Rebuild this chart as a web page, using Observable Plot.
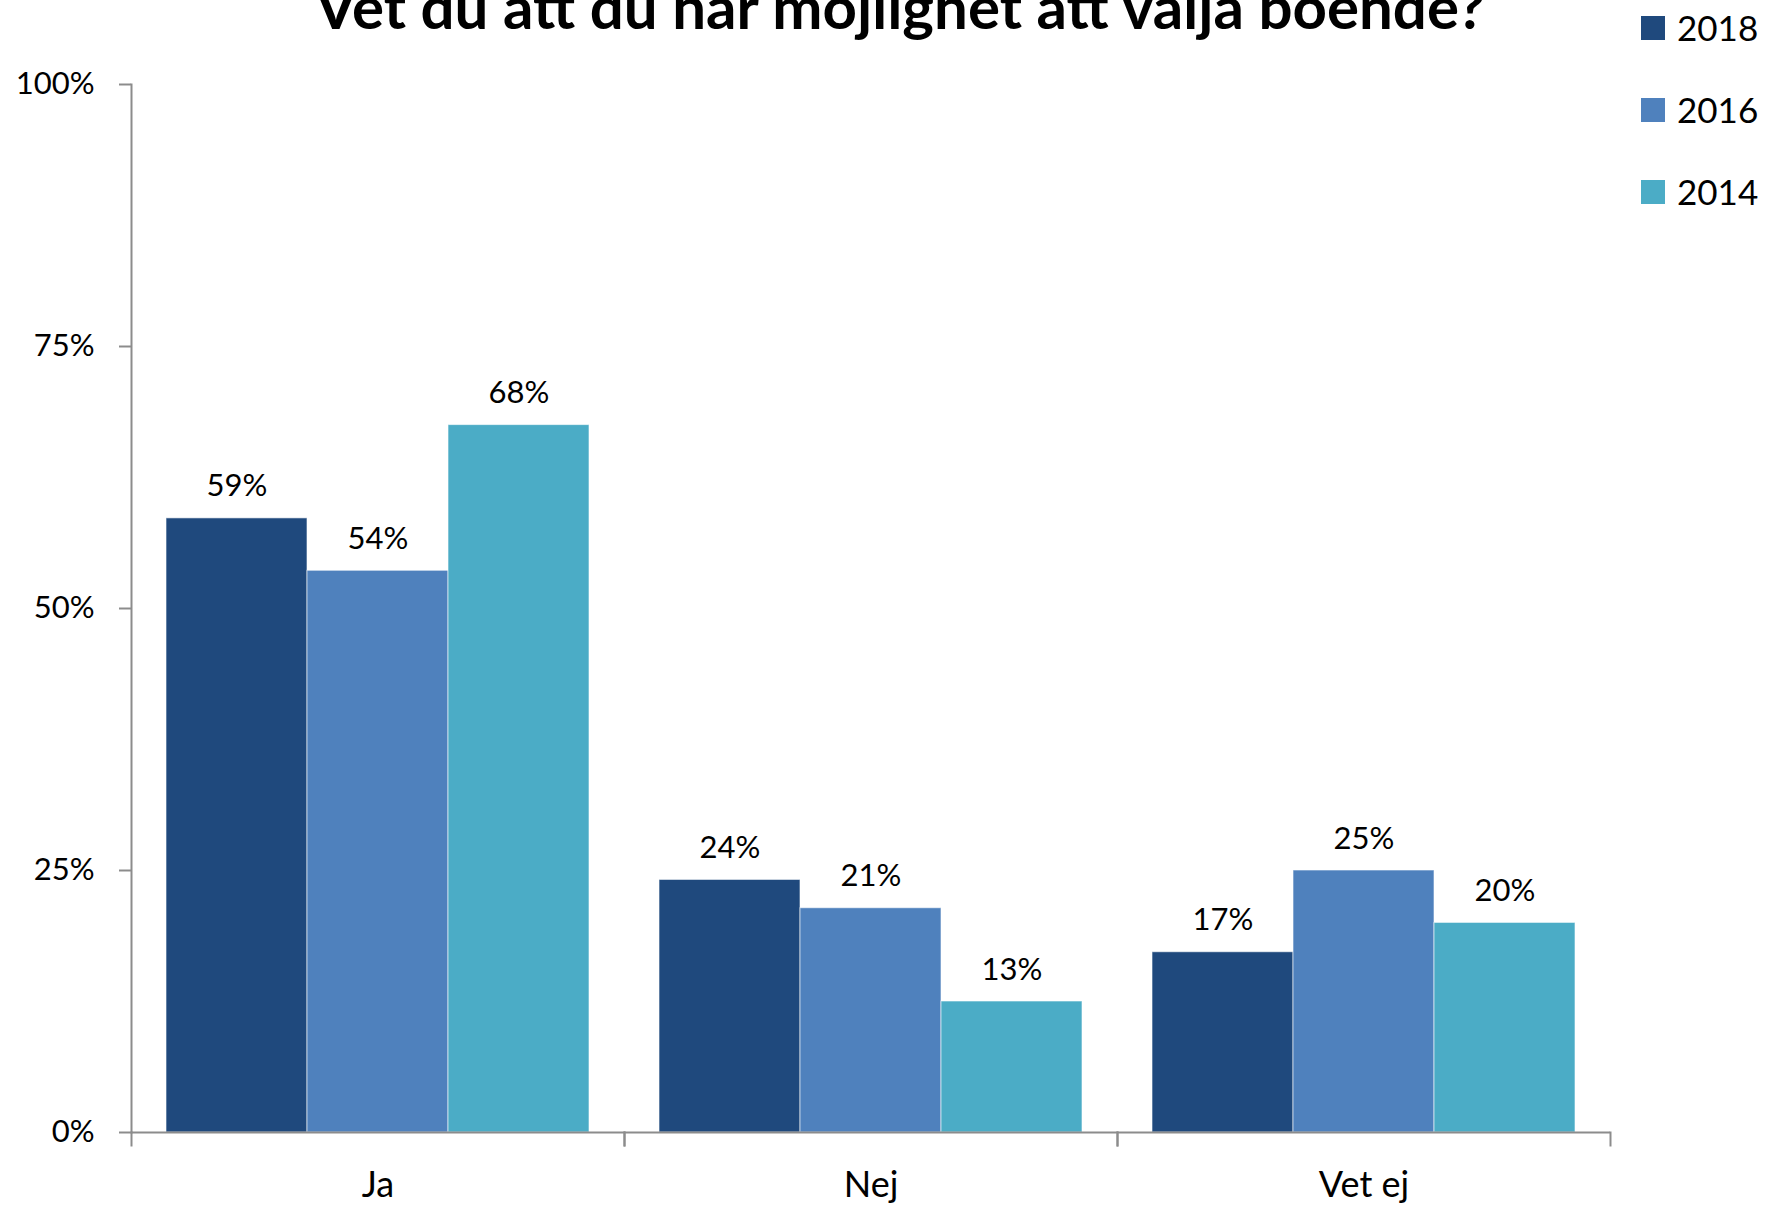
<!DOCTYPE html>
<html>
<head>
<meta charset="utf-8">
<script src="https://cdn.jsdelivr.net/npm/d3@7"></script>
<script src="https://cdn.jsdelivr.net/npm/@observablehq/plot@0.6"></script>
<style>
  html, body { margin: 0; padding: 0; background: #fff; }
  #wrap { position: relative; width: 1766px; height: 1209px; overflow: hidden; font-family: Lato, "Open Sans", sans-serif; }
  #title { position: absolute; left: 900px; top: -24px; transform: translateX(-50%); white-space: nowrap;
           font-size: 60px; line-height: 60px; font-weight: bold; color: #000; }
  .leg { position: absolute; left: 1641px; display: flex; align-items: center; font-size: 35px; line-height: 35px; color: #000; }
  .leg span.sw { display: inline-block; width: 24px; height: 24px; margin-right: 12px; }
</style>
</head>
<body>
<div id="wrap">
  <div id="chart"></div>
  <div id="title">Vet du att du har möjlighet att välja boende?</div>
  <div id="legend"></div>
</div>
<script>
const categories = ["Ja", "Nej", "Vet ej"];
const years = ["2018", "2016", "2014"];
const values2018 = [0.586, 0.241, 0.172];
const values2016 = [0.536, 0.214, 0.250];
const values2014 = [0.675, 0.125, 0.200];
const colors = ["#1F497D", "#4F81BD", "#4BACC6"];
const yTicks = [0, 0.25, 0.5, 0.75, 1];

const series = {"2018": values2018, "2016": values2016, "2014": values2014};
const data = categories.flatMap((c, i) => years.map(y => ({
  category: c, year: y, value: series[y][i], label: Math.round(series[y][i] * 100) + "%"
})));

const chart = Plot.plot({
  width: 1766,
  height: 1209,
  marginLeft: 130,
  marginRight: 155,
  marginTop: 84,
  marginBottom: 77,
  style: {fontFamily: "Lato, 'Open Sans', sans-serif", color: "#000", background: "#fff"},
  fx: {domain: categories, padding: 0, label: null, axis: null},
  x: {domain: years, paddingInner: 0, paddingOuter: 0.248, axis: null},
  y: {domain: [0, 1], axis: null},
  color: {domain: years, range: colors},
  marks: [
    Plot.barY(data, {fx: "category", x: "year", y: "value", fill: "year",
      stroke: "white", strokeWidth: 1, strokeOpacity: 0.6}),
    Plot.text(data, {fx: "category", x: "year", y: "value", text: "label",
      lineAnchor: "bottom", dy: -22, fontSize: 31, fill: "#000"}),
    Plot.ruleY([0], {stroke: "#8c8c8c", strokeWidth: 2}),
    Plot.frame({anchor: "left", facetAnchor: "left", stroke: "#8c8c8c", strokeWidth: 2}),
    Plot.frame({anchor: "left", insetTop: 1048, insetBottom: -13, stroke: "#8c8c8c", strokeWidth: 2}),
    Plot.frame({anchor: "right", insetTop: 1048, insetBottom: -13, stroke: "#8c8c8c", strokeWidth: 2}),
    Plot.axisY({ticks: yTicks, tickFormat: d3.format(".0%"), tickSize: 12, tickPadding: 25,
      fontSize: 31, stroke: "#8c8c8c", strokeWidth: 2, fill: "#000", label: null}),
    Plot.axisFx({anchor: "bottom", tickSize: 0, tickPadding: 39, fontSize: 36, fill: "#000", label: null})
  ]
});
document.getElementById("chart").appendChild(chart);

// legend
const legend = document.getElementById("legend");
const legTops = [27, 109, 191];
years.forEach((y, i) => {
  const d = document.createElement("div");
  d.className = "leg";
  d.style.top = (legTops[i] - 17) + "px";
  d.style.height = "35px";
  d.innerHTML = `<span class="sw" style="background:${colors[i]}"></span><span>${y}</span>`;
  legend.appendChild(d);
});
</script>
</body>
</html>
